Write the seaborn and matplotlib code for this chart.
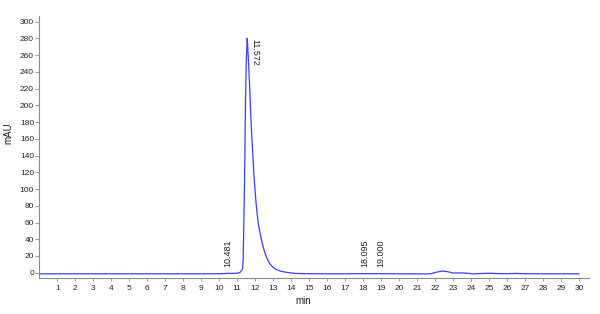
import matplotlib
matplotlib.use("Agg")
import matplotlib.pyplot as plt
import seaborn as sns
import pandas as pd

# ---- data ----
time_min = [0, 1, 2, 3, 4, 5, 6, 7, 8, 9, 10, 10.3, 10.48, 10.7, 11.0, 11.15,
            11.25, 11.30, 11.33, 11.36, 11.40, 11.43, 11.46, 11.50, 11.53,
            11.555, 11.58, 11.62, 11.67, 11.72, 11.78, 11.85, 11.92, 11.99,
            12.06, 12.13, 12.20, 12.28, 12.36, 12.44, 12.52, 12.60, 12.70,
            12.80, 12.92, 13.05, 13.20, 13.40, 13.65, 13.90, 14.20, 14.60,
            15, 16, 17, 18, 18.1, 19, 20, 21, 21.5, 21.8, 22.1, 22.4,
            22.7, 23.0, 23.5, 23.8, 24.1, 24.5, 25.0, 25.5, 26.0, 26.5, 27,
            28, 29, 30]
mau = [-1.3, -1.3, -1.3, -1.3, -1.3, -1.3, -1.3, -1.3, -1.3, -1.3, -1.2, -1.0,
       -0.7, -0.8, -0.6, 0.3,
       3, 5, 15, 50, 100, 150, 206, 250, 268,
       280, 272, 255, 232, 206, 175, 147, 120, 98,
       80, 66, 55, 46, 38, 31, 25, 20, 15,
       11, 8, 5.5, 3.5, 2, 0.8, 0, -0.7, -1.1,
       -1.2, -1.3, -1.3, -1.1, -1.1, -1.2, -1.3, -1.4, -1.5, -1.0, 0.8, 2.0,
       1.2, -0.3, -0.2, -0.6, -1.4, -1.0, -0.6, -1.0, -1.2, -0.8, -1.2,
       -1.3, -1.3, -1.3]

peak_labels = ["10.481", "11.572", "18.095", "19.000"]
peak_times = [10.481, 11.572, 18.095, 19.000]

x_ticks = list(range(1, 31))
y_ticks = list(range(0, 301, 20))

# ---- plotting ----
sns.set_style("white")
plt.rcParams["font.family"] = ["Liberation Sans Narrow", "Liberation Sans", "DejaVu Sans"]

fig = plt.figure(figsize=(6.0, 3.14), dpi=100)
ax = fig.add_axes([0.0655, 0.1146, 0.9162, 0.8354])

df = pd.DataFrame({"min": time_min, "mAU": mau})
sns.lineplot(data=df, x="min", y="mAU", ax=ax, color="#3c3cff", lw=0.9,
             sort=False, estimator=None)

ax.set_xlim(0, 30.55)
ax.set_ylim(-6.3, 307)
ax.set_xticks(x_ticks)
ax.set_yticks(y_ticks)
ax.set_xticklabels([str(t) for t in x_ticks])
ax.set_yticklabels([str(t) for t in y_ticks])

for s in ["top", "right"]:
    ax.spines[s].set_visible(False)
for s in ["left", "bottom"]:
    ax.spines[s].set_color("#8c8c8c")
    ax.spines[s].set_linewidth(0.8)

ax.tick_params(axis="x", direction="out", length=2.5, width=0.6, pad=2.5,
               colors="#8c8c8c", labelcolor="#222222", labelsize=6, bottom=True)
ax.tick_params(axis="y", direction="out", length=3, width=0.6, pad=0.8,
               colors="#8c8c8c", labelcolor="#222222", labelsize=6, left=True)

ax.set_xlabel("min", fontsize=7, color="#222222")
ax.set_ylabel("mAU", fontsize=7, color="#222222")
ax.xaxis.set_label_coords(0.480, -0.069)
ax.yaxis.set_label_coords(-0.048, 0.551)

for lab, t in zip(peak_labels, peak_times):
    if lab == "11.572":
        ax.annotate(lab, xy=(t, 279), xytext=(5, 0), textcoords="offset points",
                    rotation=-90, ha="center", va="top", fontsize=6.5,
                    color="#222222")
    else:
        ax.annotate(lab, xy=(t, 7), rotation=90, ha="center", va="bottom",
                    fontsize=6.5, color="#222222")

fig.savefig("out.png", dpi=100)
